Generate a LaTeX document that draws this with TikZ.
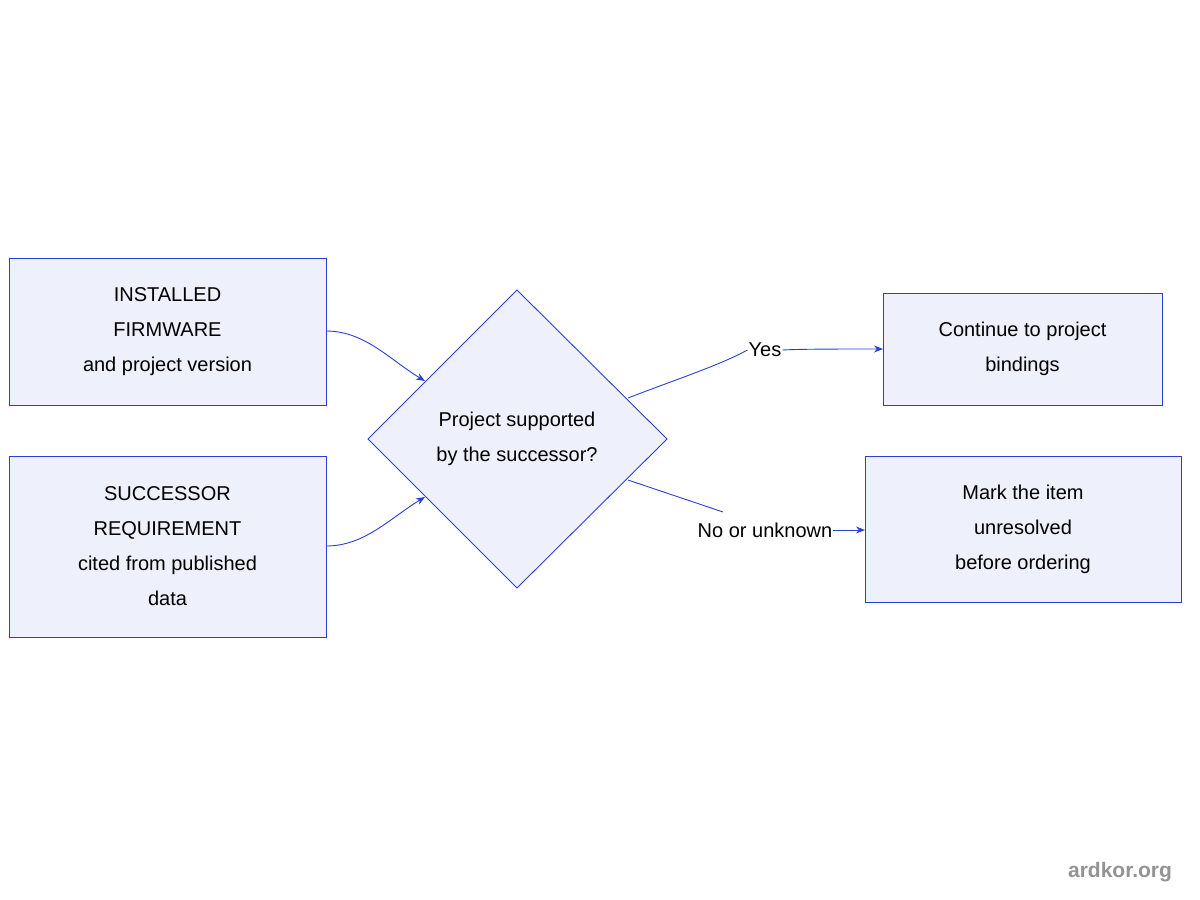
\documentclass[tikz,border=0pt]{standalone}
\usepackage{fontspec}
\setmainfont{Liberation Sans}
\usetikzlibrary{arrows.meta,shapes.geometric}
\definecolor{bfill}{HTML}{EEF0FC}
\definecolor{bline}{HTML}{2B3FD6}
\begin{document}
\begin{tikzpicture}[x=1pt,y=-1pt,
  box/.style={draw=bline,fill=bfill,line width=0.9pt},
  lbl/.style={font=\fontsize{20}{35}\selectfont,align=center,text=black},
  edge/.style={draw=bline,line width=0.9pt},
  arr/.style={edge,-{Stealth[length=9pt,width=7pt]}}]
\useasboundingbox (0,0) rectangle (1200,900);
\draw[box] (9,258) rectangle (326,405);
\node[lbl] (b1) at (167.5,331.5) {INSTALLED\\FIRMWARE\\and project version};
\draw[box] (9,456) rectangle (326,637);
\node[lbl] (b2) at (167.5,546.5) {SUCCESSOR\\REQUIREMENT\\cited from published\\data};
\draw[box] (517,290) -- (667,439) -- (517,588) -- (368,439) -- cycle;
\node[lbl] (d) at (517,439) {Project supported\\by the successor?};
\draw[box] (883,293) rectangle (1162,405);
\node[lbl] (b3) at (1022.5,349) {Continue to project\\bindings};
\draw[box] (865,456) rectangle (1181,602);
\node[lbl] (b4) at (1023,529) {Mark the item\\unresolved\\before ordering};
\coordinate (b1e) at (326,331);
\coordinate (b2e) at (326,546);
\coordinate (dtl) at (425,381);
\coordinate (dbl) at (425,497);
\coordinate (dtr) at (628,398);
\coordinate (dbr) at (628,480);
\coordinate (b3w) at (883,349);
\coordinate (b4w) at (865,530);
\draw[arr] (b1e) .. controls (365,331) and (390,360) .. (dtl);
\draw[arr] (b2e) .. controls (365,546) and (390,518) .. (dbl);
\node[lbl,fill=white,inner sep=1pt] (yes) at (765,350) {Yes};
\draw[edge] (dtr) .. controls (680,378) and (720,365) .. (yes.west);
\draw[arr] (yes.east) .. controls (800,349) and (840,349) .. (b3w);
\node[lbl,fill=white,inner sep=1pt] (no) at (765,530) {No or unknown};
\coordinate (noend) at (723,512);
\draw[edge] (dbr) -- (noend);
\draw[arr] (no.east) -- (b4w);
\node[font=\bfseries\fontsize{21}{25}\selectfont,text=gray!85] (wm) at (1120,872) {ardkor.org};
\end{tikzpicture}
\end{document}
